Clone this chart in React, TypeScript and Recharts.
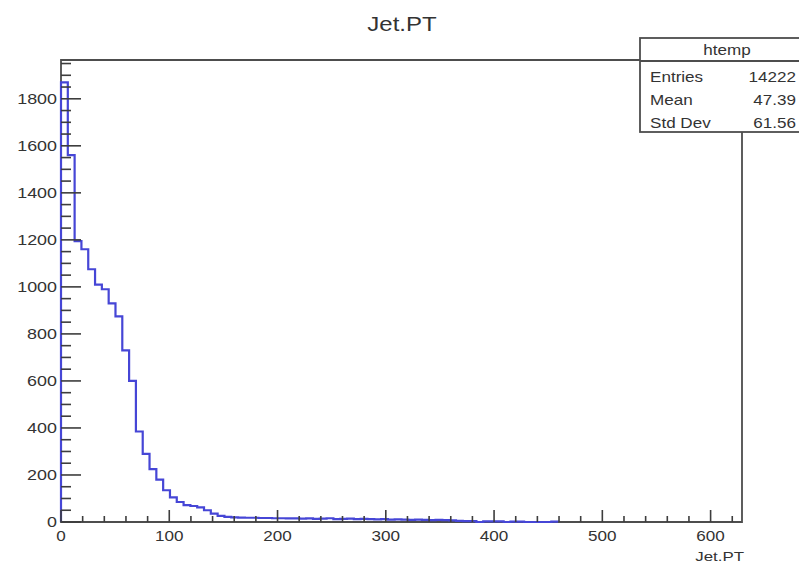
import { Line, LineChart, ReferenceArea, XAxis, YAxis } from "recharts";

// histogram of Jet.PT, 100 bins from 0 to 629
const binCounts = [
  1870, 1560, 1195, 1160, 1075, 1010, 990, 930, 875, 730,
  600, 385, 290, 225, 180, 135, 105, 85, 72, 68,
  62, 50, 36, 26, 22, 20, 19, 18, 18, 17,
  17, 16, 16, 15, 15, 14, 15, 13, 14, 16,
  12, 13, 14, 12, 13, 12, 11, 12, 10, 11,
  10, 9, 10, 9, 8, 9, 8, 7, 5, 4,
  4, 0, 3, 3, 3, 0, 2, 2, 0, 0,
  0, 0, 2, 0, 0, 0, 0, 0, 0, 0,
  0, 0, 0, 0, 0, 0, 0, 0, 0, 0,
  0, 0, 0, 0, 0, 0, 0, 0, 0, 0,
];
const xMin = 0;
const xMax = 629;
const yMax = 1965;

const xTicks = [
  0, 20, 40, 60, 80, 100, 120, 140, 160, 180, 200, 220, 240, 260, 280, 300,
  320, 340, 360, 380, 400, 420, 440, 460, 480, 500, 520, 540, 560, 580, 600, 620,
];
const yTicks = [
  0, 50, 100, 150, 200, 250, 300, 350, 400, 450, 500, 550, 600, 650, 700, 750,
  800, 850, 900, 950, 1000, 1050, 1100, 1150, 1200, 1250, 1300, 1350, 1400,
  1450, 1500, 1550, 1600, 1650, 1700, 1750, 1800, 1850, 1900, 1950,
];

const statLabels = ["Entries", "Mean", "Std Dev"];
const statValues = ["14222", "47.39", "61.56"];

const binWidth = (xMax - xMin) / binCounts.length;
// empty bins at the end sit under the axis, so the step line stops after the last filled bin
let lastFilled = binCounts.length - 1;
while (lastFilled > 0 && binCounts[lastFilled] === 0) lastFilled--;
const rows = [
  { x: xMin, y: 0 },
  ...binCounts
    .slice(0, lastFilled + 1)
    .map((count, i) => ({ x: xMin + i * binWidth, y: count })),
  { x: xMin + (lastFilled + 1) * binWidth, y: 0 },
];

const FONT = "'Liberation Sans', Arial, sans-serif";
const AXIS = "#3d3d3d";

function XTick(props: any) {
  const { x, y, payload } = props;
  const major = payload.value % 100 === 0;
  return (
    <g>
      <line x1={x} x2={x} y1={y} y2={y - (major ? 12 : 6)} stroke={AXIS} strokeWidth={1.6} />
      {major && (
        <text
          transform={`translate(${x},${y + 19}) scale(1.22,1)`}
          textAnchor="middle"
          fontFamily={FONT}
          fontSize={14}
          fill="#333"
        >
          {payload.value}
        </text>
      )}
    </g>
  );
}

function YTick(props: any) {
  const { x, y, payload } = props;
  const major = payload.value % 200 === 0;
  return (
    <g>
      <line x1={x} x2={x + (major ? 20 : 10)} y1={y} y2={y} stroke={AXIS} strokeWidth={1.6} />
      {major && (
        <text
          transform={`translate(${x - 4},${y}) scale(1.28,1)`}
          textAnchor="end"
          dy="0.35em"
          fontFamily={FONT}
          fontSize={14}
          fill="#333"
        >
          {payload.value}
        </text>
      )}
    </g>
  );
}

export default function App() {
  return (
    <div
      style={{
        position: "absolute",
        left: 0,
        top: 0,
        width: 799,
        height: 566,
        overflow: "hidden",
        background: "#fff",
      }}
    >
      <LineChart
        width={799}
        height={566}
        data={rows}
        margin={{ top: 60, right: 57, left: 0, bottom: 0 }}
      >
        <XAxis
          dataKey="x"
          type="number"
          domain={[xMin, xMax]}
          ticks={xTicks}
          interval={0}
          height={44}
          tickSize={0}
          tickMargin={0}
          tickLine={false}
          axisLine={false}
          tick={(p: any) => <XTick {...p} />}
        />
        <YAxis
          type="number"
          domain={[0, yMax]}
          ticks={yTicks}
          interval={0}
          width={61}
          tickSize={0}
          tickMargin={0}
          tickLine={false}
          axisLine={false}
          tick={(p: any) => <YTick {...p} />}
        />
        <Line
          dataKey="y"
          type="stepAfter"
          stroke="#4646d6"
          strokeWidth={2.2}
          dot={false}
          activeDot={false}
          isAnimationActive={false}
        />
        <ReferenceArea
          x1={xMin}
          x2={xMax}
          y1={0}
          y2={yMax}
          fill="none"
          fillOpacity={0}
          stroke="#4d4d4d"
          strokeWidth={1.8}
        />
      </LineChart>
      <svg
        width={799}
        height={566}
        style={{ position: "absolute", left: 0, top: 0, pointerEvents: "none" }}
      >
        <text
          transform="translate(402,31) scale(1.2,1)"
          textAnchor="middle"
          fontFamily={FONT}
          fontSize={20}
          fill="#333"
        >
          Jet.PT
        </text>
        <text
          transform="translate(744,561) scale(1.3,1)"
          textAnchor="end"
          fontFamily={FONT}
          fontSize={13}
          fill="#333"
        >
          Jet.PT
        </text>
        <rect x={640} y={38} width={176} height={94} fill="#fff" stroke="#4d4d4d" strokeWidth={1.8} />
        <line x1={640} x2={816} y1={61} y2={61} stroke="#4d4d4d" strokeWidth={1.8} />
        <text
          transform="translate(727,55) scale(1.22,1)"
          textAnchor="middle"
          fontFamily={FONT}
          fontSize={14}
          fill="#333"
        >
          htemp
        </text>
        {statLabels.map((label, i) => (
          <g key={label}>
            <text
              transform={`translate(650,${82 + i * 23}) scale(1.22,1)`}
              fontFamily={FONT}
              fontSize={14}
              fill="#333"
            >
              {label}
            </text>
            <text
              transform={`translate(796,${82 + i * 23}) scale(1.22,1)`}
              textAnchor="end"
              fontFamily={FONT}
              fontSize={14}
              fill="#333"
            >
              {statValues[i]}
            </text>
          </g>
        ))}
      </svg>
    </div>
  );
}
